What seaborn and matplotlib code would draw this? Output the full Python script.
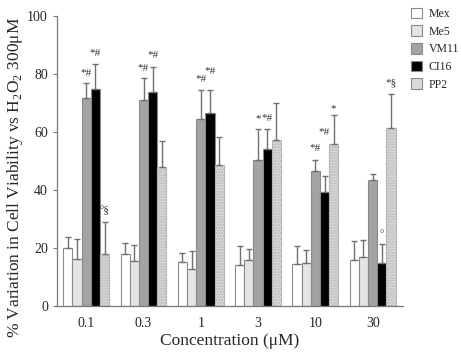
"""
Cell viability vs H2O2 300uM - grouped bars with upward SD bars
"""

import numpy as np
import pandas as pd
import matplotlib
matplotlib.use('Agg')
import matplotlib.pyplot as plt
import seaborn as sns

# ---- data ----
concentrations = ['0.1', '0.3', '1', '3', '10', '30']
lines = ['Mex', 'Me5', 'VM11', 'CI16', 'PP2']

mex_mean = [20.0, 17.8, 15.3, 14.3, 14.6, 15.7]
mex_sd = [3.9, 4.0, 3.1, 6.5, 6.1, 6.6]
me5_mean = [16.2, 15.6, 12.6, 15.7, 15.0, 16.9]
me5_sd = [6.9, 5.5, 6.5, 4.1, 4.3, 6.0]
vm11_mean = [71.7, 71.0, 64.4, 50.3, 46.7, 43.4]
vm11_sd = [5.1, 7.7, 10.1, 10.6, 3.6, 2.1]
ci16_mean = [75.0, 73.9, 66.7, 54.0, 39.3, 14.8]
ci16_sd = [8.4, 8.4, 7.8, 6.9, 5.7, 6.6]
pp2_mean = [17.8, 48.0, 48.6, 57.2, 55.8, 61.3]
pp2_sd = [11.3, 9.0, 9.8, 12.9, 10.0, 11.7]

# significance marks: (concentration, line, text, y)
marks = [
    ('0.1', 'VM11', '*#', 80.2), ('0.1', 'CI16', '*#', 87.1), ('0.1', 'PP2', '°§', 33.0),
    ('0.3', 'VM11', '*#', 82.0), ('0.3', 'CI16', '*#', 86.5),
    ('1', 'VM11', '*#', 78.0), ('1', 'CI16', '*#', 80.8),
    ('3', 'VM11', '*', 64.7), ('3', 'CI16', '*#', 64.7),
    ('10', 'VM11', '*#', 54.4), ('10', 'CI16', '*#', 59.8), ('10', 'PP2', '*', 68.2),
    ('30', 'CI16', '°', 24.4), ('30', 'PP2', '*§', 76.8),
]

means = {'Mex': mex_mean, 'Me5': me5_mean, 'VM11': vm11_mean, 'CI16': ci16_mean, 'PP2': pp2_mean}
sds = {'Mex': mex_sd, 'Me5': me5_sd, 'VM11': vm11_sd, 'CI16': ci16_sd, 'PP2': pp2_sd}

rows = []
for ln in lines:
    for c, m, s in zip(concentrations, means[ln], sds[ln]):
        rows.append({'conc': c, 'line': ln, 'value': m, 'sd': s})
df = pd.DataFrame(rows)

sns.set_style('ticks')
plt.rcParams['font.family'] = ['Liberation Serif', 'DejaVu Serif']
plt.rcParams['mathtext.fontset'] = 'custom'
plt.rcParams['mathtext.rm'] = 'Liberation Serif'

palette = {'Mex': '#ffffff', 'Me5': '#e4e4e4', 'VM11': '#a3a3a3', 'CI16': '#000000', 'PP2': '#dadada'}
edge = '#8a8a8a'

fig = plt.figure(figsize=(4.61, 3.54), dpi=100)
ax = fig.add_axes([57 / 461, 1 - 306 / 354, (403 - 57) / 461, (306 - 16) / 354])

sns.barplot(data=df, x='conc', y='value', hue='line', order=concentrations, hue_order=lines,
            palette=palette, edgecolor=edge, linewidth=0.8, errorbar=None, width=0.8,
            saturation=1, ax=ax)

# error bars (upward only) + hatch for PP2
centers = {}
for ln, cont in zip(lines, ax.containers):
    xs = np.array([b.get_x() + b.get_width() / 2 for b in cont])
    centers[ln] = xs
    vals = np.array(means[ln])
    ax.errorbar(xs, vals, yerr=[np.zeros_like(vals), np.array(sds[ln])], fmt='none',
                ecolor='#707070', elinewidth=1.0, capsize=2, capthick=1.0, zorder=1)
    if ln == 'PP2':
        for b in cont:
            b.set_hatch('......')
            b.set_edgecolor('#b5b5b5')

for c, ln, txt, y in marks:
    x = centers[ln][concentrations.index(c)]
    ax.text(x, y, txt, ha='center', va='center', fontsize=8, color='#333333')

ax.set_ylim(0, 100)
ax.set_xlim(-0.51, 5.53)
ax.set_yticks([0, 20, 40, 60, 80, 100])
ax.tick_params(axis='y', labelsize=10, length=3, color='#777777', width=0.8)
ax.tick_params(axis='x', labelsize=10, length=0, pad=8)
for side in ['left', 'bottom']:
    ax.spines[side].set_color('#777777')
    ax.spines[side].set_linewidth(0.9)
sns.despine(ax=ax)

ax.set_xlabel('Concentration (μM)', fontsize=12.5, labelpad=2)
ax.set_ylabel('% Variation in Cell Viability vs H$_2$O$_2$ 300μM', fontsize=12.5)
ax.yaxis.set_label_coords(-0.092, 0.445)

handles, labels = ax.get_legend_handles_labels()
ax.legend(handles, labels, frameon=False, loc='upper left', bbox_to_anchor=(0.878, 0.995),
          bbox_transform=fig.transFigure, fontsize=8.5, handlelength=1.0, handleheight=1.0,
          handletextpad=0.5, labelspacing=0.45, borderaxespad=0.3, borderpad=0.2)

fig.savefig('out.png', dpi=100)
